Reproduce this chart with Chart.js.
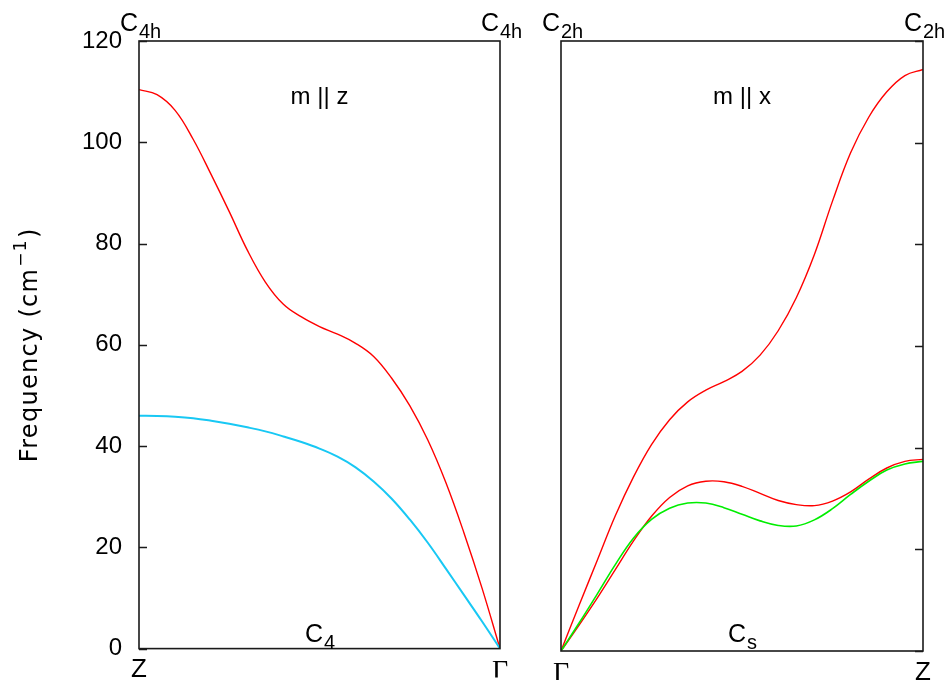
<!DOCTYPE html>
<html>
<head>
<meta charset="utf-8">
<script src="https://cdn.jsdelivr.net/npm/chart.js@4.4.1/dist/chart.umd.min.js"></script>
<style>
  html, body { margin: 0; padding: 0; background: #fff; }
  #wrap { position: relative; width: 951px; height: 680px; }
  #wrap canvas { position: absolute; left: 0; top: 0; }
</style>
</head>
<body>
<div id="wrap">
  <canvas id="panelZ" width="951" height="680"></canvas>
  <canvas id="panelX" width="951" height="680"></canvas>
</div>
<script>
// ---- frequency axis ----
const freqTicks = [0, 20, 40, 60, 80, 100, 120];
const freqTitle = ['Frequency (cm', '\u22121', ')'];   // text, superscript, closing

// ---- path end labels ----
const pathZ = ['Z', '\u0393'];          // m || z panel: Z -> Gamma
const pathX = ['\u0393', 'Z'];          // m || x panel: Gamma -> Z

// ---- point-group labels: [main, subscript] ----
const groupsZ = { leftTop: ['C', '4h'], rightTop: ['C', '4h'], line: ['C', '4'] };
const groupsX = { leftTop: ['C', '2h'], rightTop: ['C', '2h'], line: ['C', 's'] };
const titleZ = 'm || z';
const titleX = 'm || x';

// ---- path coordinate (fraction of the segment) ----
const q = [0, 0.05, 0.1, 0.15, 0.2, 0.25, 0.3, 0.35, 0.4, 0.45, 0.5, 0.55, 0.6, 0.65, 0.7, 0.75, 0.8, 0.85, 0.9, 0.95, 1.0];

// ---- m || z branches (cm^-1) ----
const zUpper = [110.4, 109.4, 106.3, 100.6, 93.6, 86.3, 78.7, 72.4, 68.0, 65.5, 63.6, 62.1, 60.3, 57.7, 53.4, 48.0, 41.2, 32.8, 22.9, 12.0, 0];
const zLower = [46.0, 45.95, 45.8, 45.5, 45.0, 44.4, 43.7, 42.9, 41.9, 40.8, 39.5, 37.9, 35.8, 33.0, 29.6, 25.5, 20.9, 15.8, 10.6, 5.4, 0];

// ---- m || x branches (cm^-1) ----
const xUpper = [0, 9.0, 17.8, 26.6, 34.2, 40.6, 45.5, 49.0, 51.3, 53.0, 55.0, 58.2, 63.0, 69.5, 78.0, 88.5, 98.0, 105.0, 110.0, 113.2, 114.4];
const xMid   = [0, 5.1, 10.4, 16.0, 21.6, 26.5, 30.2, 32.5, 33.4, 33.3, 32.4, 31.0, 29.6, 28.8, 28.6, 29.5, 31.3, 33.8, 36.0, 37.3, 37.7];
const xLow   = [0, 5.5, 11.2, 17.0, 22.2, 25.9, 28.1, 29.1, 29.1, 28.2, 26.9, 25.6, 24.7, 24.6, 25.8, 28.0, 30.8, 33.4, 35.6, 36.8, 37.3];

const SANS = '"Liberation Sans", Arial, sans-serif';
const WIDE = '"DejaVu Sans", Verdana, sans-serif';
const SERIF = '"Liberation Serif", "Times New Roman", serif';
const INK = '#000';

const pts = f => q.map((v, i) => ({ x: v, y: f[i] }));

function branch(f, color, width, order) {
  return {
    data: pts(f), borderColor: color, borderWidth: width, pointRadius: 0,
    tension: 0.4, fill: false, order
  };
}

// "C" with a subscript; mode 'corner' puts the subscript start at x
function drawGroup(ctx, g, x, y, mode) {
  ctx.font = '25px ' + SANS;
  const wMain = ctx.measureText(g[0]).width;
  ctx.font = '20px ' + SANS;
  const wSub = ctx.measureText(g[1]).width;
  const x0 = mode === 'corner' ? x - 1 - wMain : x - (wMain + wSub) / 2;
  ctx.textAlign = 'left';
  ctx.textBaseline = 'alphabetic';
  ctx.font = '25px ' + SANS;
  ctx.fillText(g[0], x0, y);
  ctx.font = '20px ' + SANS;
  ctx.fillText(g[1], x0 + wMain + 1, y + 7);
}

// rotated frequency-axis title with a raised exponent
function drawFreqTitle(ctx, cx, cy) {
  ctx.save();
  ctx.translate(cx, cy);
  ctx.rotate(-Math.PI / 2);
  ctx.letterSpacing = '1.3px';
  ctx.textAlign = 'left';
  ctx.textBaseline = 'alphabetic';
  ctx.font = '24px ' + WIDE;
  const w0 = ctx.measureText(freqTitle[0]).width;
  const w2 = ctx.measureText(freqTitle[2]).width;
  ctx.font = '17px ' + WIDE;
  const w1 = ctx.measureText(freqTitle[1]).width;
  let x = -(w0 + w1 + w2 + 2) / 2;
  ctx.font = '24px ' + WIDE;
  ctx.fillText(freqTitle[0], x, 0);
  x += w0 + 1;
  ctx.font = '17px ' + WIDE;
  ctx.fillText(freqTitle[1], x, -11);
  x += w1 + 1;
  ctx.font = '24px ' + WIDE;
  ctx.fillText(freqTitle[2], x, 0);
  ctx.restore();
}

const frame = {
  id: 'frame',
  afterDatasetsDraw(chart, args, o) {
    const { ctx, chartArea: a, scales: { y } } = chart;
    ctx.save();
    ctx.strokeStyle = '#1a1a1a';
    ctx.lineWidth = 1.6;
    ctx.strokeRect(a.left, a.top, a.right - a.left, a.bottom - a.top);
    // inward tick marks on the frequency side
    ctx.lineWidth = 1.4;
    ctx.beginPath();
    freqTicks.forEach(v => {
      const py = Math.round(y.getPixelForValue(v)) + 0.5;
      if (o.side === 'left') { ctx.moveTo(a.left, py); ctx.lineTo(a.left + 8, py); }
      else { ctx.moveTo(a.right, py); ctx.lineTo(a.right - 8, py); }
    });
    ctx.stroke();
    ctx.fillStyle = INK;
    drawGroup(ctx, o.groups.leftTop, a.left, 31, 'corner');
    drawGroup(ctx, o.groups.rightTop, a.right, 31, 'corner');
    const cx = (a.left + a.right) / 2;
    drawGroup(ctx, o.groups.line, cx, 642, 'center');
    ctx.font = '24px ' + SANS;
    ctx.textAlign = 'center';
    ctx.textBaseline = 'alphabetic';
    ctx.fillText(o.title, cx, 104);
    if (o.side === 'left') drawFreqTitle(ctx, 37, (a.top + a.bottom) / 2);
    ctx.restore();
  }
};

function xAxis(ends) {
  return {
    type: 'linear', min: 0, max: 1,
    afterBuildTicks: s => { s.ticks = [{ value: 0 }, { value: 1 }]; },
    afterFit: s => { s.height = 29; },
    grid: { display: false, drawTicks: false },
    border: { display: false },
    ticks: {
      autoSkip: false, maxRotation: 0, padding: 6, color: INK,
      callback: (v, i) => ends[i],
      font: c => (ends[c.index] === '\u0393' ? { family: SERIF, size: 28 } : { family: SANS, size: 26 })
    }
  };
}

const base = {
  responsive: false, animation: false, devicePixelRatio: 1,
  events: [],
  plugins: { legend: { display: false }, tooltip: { enabled: false } }
};

new Chart(document.getElementById('panelZ'), {
  type: 'line',
  data: { datasets: [
    branch(zUpper, '#ff0000', 1.4, 2),
    branch(zLower, '#18c8f4', 2.0, 1)
  ] },
  options: Object.assign({}, base, {
    layout: { padding: { left: 12, top: 41, right: 451, bottom: 0 } },
    scales: {
      x: xAxis(pathZ),
      y: {
        min: 0, max: 120,
        afterBuildTicks: s => { s.ticks = freqTicks.map(v => ({ value: v })); },
        afterFit: s => { s.width = 127; },
        grid: { display: false, drawTicks: false },
        border: { display: false },
        ticks: { padding: 17, color: INK, font: { family: SANS, size: 24 } }
      }
    },
    plugins: Object.assign({}, base.plugins, { frame: { side: 'left', groups: groupsZ, title: titleZ } })
  }),
  plugins: [frame]
});

new Chart(document.getElementById('panelX'), {
  type: 'line',
  data: { datasets: [
    branch(xUpper, '#ff0000', 1.4, 3),
    branch(xMid, '#ff0000', 1.4, 2),
    branch(xLow, '#00ee00', 1.6, 1)
  ] },
  options: Object.assign({}, base, {
    layout: { padding: { left: 561, top: 41, right: 28, bottom: 0 } },
    scales: {
      x: xAxis(pathX),
      y: { min: 0, max: 120, display: false,
           afterBuildTicks: s => { s.ticks = freqTicks.map(v => ({ value: v })); } }
    },
    plugins: Object.assign({}, base.plugins, { frame: { side: 'right', groups: groupsX, title: titleX } })
  }),
  plugins: [frame]
});
</script>
</body>
</html>
